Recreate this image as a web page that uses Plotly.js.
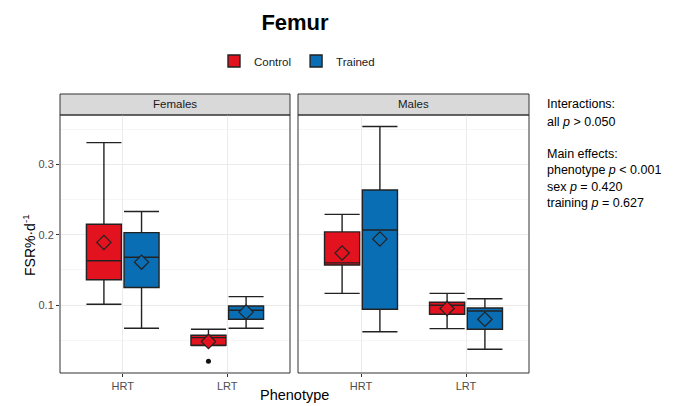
<!DOCTYPE html>
<html>
<head>
<meta charset="utf-8">
<script src="https://cdn.plot.ly/plotly-3.0.1.min.js"></script>
<style>html,body{margin:0;padding:0;background:#fff;}#chart{width:679px;height:406px;}</style>
</head>
<body>
<div id="chart"></div>
<script>
// ---- data ----
const phenotypes = ['HRT', 'LRT'];
const groups = ['Control', 'Trained'];
const sexes = ['Females', 'Males'];

// Females
const femControlQ1 = [0.136, 0.0427];
const femControlMedian = [0.163, 0.0536];
const femControlQ3 = [0.215, 0.057];
const femControlLower = [0.101, 0.0425];
const femControlUpper = [0.331, 0.0655];
const femControlMean = [0.189, 0.048];

const femTrainedQ1 = [0.125, 0.0797];
const femTrainedMedian = [0.168, 0.0925];
const femTrainedQ3 = [0.203, 0.0986];
const femTrainedLower = [0.067, 0.067];
const femTrainedUpper = [0.233, 0.112];
const femTrainedMean = [0.161, 0.090];

// Males
const maleControlQ1 = [0.157, 0.0868];
const maleControlMedian = [0.160, 0.0996];
const maleControlQ3 = [0.204, 0.104];
const maleControlLower = [0.1166, 0.0664];
const maleControlUpper = [0.229, 0.1166];
const maleControlMean = [0.174, 0.095];

const maleTrainedQ1 = [0.094, 0.0655];
const maleTrainedMedian = [0.2067, 0.0915];
const maleTrainedQ3 = [0.2636, 0.0957];
const maleTrainedLower = [0.062, 0.037];
const maleTrainedUpper = [0.354, 0.109];
const maleTrainedMean = [0.194, 0.0797];

// outlier (Females, LRT, Control)
const outlierX = ['LRT'];
const outlierY = [0.020];

const yTicks = [0.1, 0.2, 0.3];
const interactionLines = ['Interactions:', 'all <i>p</i> > 0.050'];
const mainEffectLines = ['Main effects:', 'phenotype <i>p</i> < 0.001', 'sex <i>p</i> = 0.420', 'training <i>p</i> = 0.627'];

// ---- styles ----
const colors = {Control: '#E2121E', Trained: '#0A6EB5'};
const lineCol = '#222222';
const FONT = 'Liberation Sans, Arial, sans-serif';

function boxTrace(name, xa, ya, q1, med, q3, lo, hi, showleg) {
  return {
    type: 'box', name: name, legendgroup: name, showlegend: showleg,
    x: phenotypes, q1: q1, median: med, q3: q3, lowerfence: lo, upperfence: hi,
    xaxis: xa, yaxis: ya, offsetgroup: name, alignmentgroup: xa,
    fillcolor: colors[name], line: {color: lineCol, width: 1.4},
    whiskerwidth: 1, boxpoints: false, hoverinfo: 'skip'
  };
}
function meanTrace(name, xa, ya, mean) {
  return {
    type: 'scatter', mode: 'markers', showlegend: false,
    x: phenotypes, y: mean, xaxis: xa, yaxis: ya, offsetgroup: name, alignmentgroup: xa,
    marker: {symbol: 'diamond', size: 11, color: colors[name], line: {color: lineCol, width: 1.2}},
    hoverinfo: 'skip'
  };
}

const traces = [
  boxTrace('Control', 'x', 'y', femControlQ1, femControlMedian, femControlQ3, femControlLower, femControlUpper, true),
  boxTrace('Trained', 'x', 'y', femTrainedQ1, femTrainedMedian, femTrainedQ3, femTrainedLower, femTrainedUpper, true),
  boxTrace('Control', 'x2', 'y2', maleControlQ1, maleControlMedian, maleControlQ3, maleControlLower, maleControlUpper, false),
  boxTrace('Trained', 'x2', 'y2', maleTrainedQ1, maleTrainedMedian, maleTrainedQ3, maleTrainedLower, maleTrainedUpper, false),
  meanTrace('Control', 'x', 'y', femControlMean),
  meanTrace('Trained', 'x', 'y', femTrainedMean),
  meanTrace('Control', 'x2', 'y2', maleControlMean),
  meanTrace('Trained', 'x2', 'y2', maleTrainedMean),
  {
    type: 'scatter', mode: 'markers', showlegend: false,
    x: outlierX, y: outlierY, xaxis: 'x', yaxis: 'y', offsetgroup: 'Control', alignmentgroup: 'x',
    marker: {symbol: 'circle', size: 5, color: '#111'}, hoverinfo: 'skip'
  }
];

const W = 679, H = 406;
const mL = 60, mR = 150, mT = 94, mB = 33;
const plotW = W - mL - mR, plotH = H - mT - mB;
const stripH = 21;
const yTop = (plotH - stripH) / plotH;
const x1dom = [0, 230 / plotW];
const x2dom = [238 / plotW, 1];
const yRange = [0.0033, 0.3703];
const xRange = [-0.6, 1.6];
const py = (pix) => (H - mB - pix) / plotH;   // pixel row -> paper y
const px = (pix) => (pix - mL) / plotW;       // pixel col -> paper x

const axisX = (dom) => ({
  domain: dom, range: xRange, type: 'category', categoryorder: 'array', categoryarray: phenotypes,
  showgrid: true, gridcolor: '#EBEBEB', gridwidth: 1, zeroline: false, showline: false,
  ticks: 'outside', ticklen: 3, tickcolor: '#333', tickwidth: 1,
  tickfont: {family: FONT, size: 11, color: '#4D4D4D'}, fixedrange: true
});
const axisY = (anchor, showLabels) => ({
  domain: [0, yTop], range: yRange, anchor: anchor,
  tickvals: yTicks, ticktext: yTicks.map(v => v.toFixed(1)), showticklabels: showLabels,
  showgrid: true, gridcolor: '#EBEBEB', gridwidth: 1, zeroline: false, showline: false,
  ticks: showLabels ? 'outside' : '', ticklen: 3, tickcolor: '#333', tickwidth: 1,
  minor: {tickvals: [0.05, 0.15, 0.25, 0.35], showgrid: true, gridcolor: '#F4F4F4', gridwidth: 0.8, ticks: ''},
  tickfont: {family: FONT, size: 11, color: '#4D4D4D'}, fixedrange: true
});

const shapes = [];
const annotations = [];
[x1dom, x2dom].forEach((dom, i) => {
  shapes.push({type: 'rect', xref: 'paper', yref: 'paper', x0: dom[0], x1: dom[1], y0: 0, y1: yTop,
    line: {color: '#333333', width: 1}, fillcolor: 'rgba(0,0,0,0)', layer: 'above'});
  shapes.push({type: 'rect', xref: 'paper', yref: 'paper', x0: dom[0], x1: dom[1], y0: yTop, y1: 1,
    line: {color: '#333333', width: 1}, fillcolor: '#D9D9D9', layer: 'below'});
  annotations.push({xref: 'paper', yref: 'paper', x: (dom[0] + dom[1]) / 2, y: (yTop + 1) / 2,
    text: sexes[i], showarrow: false, xanchor: 'center', yanchor: 'middle',
    font: {family: FONT, size: 11.5, color: '#1A1A1A'}});
});

interactionLines.forEach((t, i) => {
  annotations.push({xref: 'paper', yref: 'paper', x: px(545), y: py(104 + i * 17.5), text: t,
    showarrow: false, xanchor: 'left', yanchor: 'middle', font: {family: FONT, size: 12.5, color: '#000'}});
});
mainEffectLines.forEach((t, i) => {
  annotations.push({xref: 'paper', yref: 'paper', x: px(545), y: py(153.5 + i * 16.6), text: t,
    showarrow: false, xanchor: 'left', yanchor: 'middle', font: {family: FONT, size: 12.5, color: '#000'}});
});

annotations.push({xref: 'paper', yref: 'paper', x: 0.5, y: py(405), text: 'Phenotype',
  showarrow: false, xanchor: 'center', yanchor: 'bottom',
  font: {family: FONT, size: 14.5, color: '#000'}});
annotations.push({xref: 'paper', yref: 'paper', x: px(29), y: py(245),
  text: 'FSR%·d<sup>-1</sup>', textangle: -90, showarrow: false, xanchor: 'center', yanchor: 'middle',
  font: {family: FONT, size: 14, color: '#000'}});

const layout = {
  width: W, height: H,
  margin: {l: mL, r: mR, t: mT, b: mB},
  paper_bgcolor: '#fff', plot_bgcolor: '#fff',
  title: {text: '<b>Femur</b>', x: 295 / W, xanchor: 'center', y: 1 - 22 / H, yanchor: 'middle',
    font: {family: FONT, size: 22, color: '#000'}},
  showlegend: true,
  legend: {orientation: 'h', x: px(214), xanchor: 'left', y: py(61), yanchor: 'middle',
    font: {family: FONT, size: 11.5, color: '#1A1A1A'},
    itemwidth: 30, tracegroupgap: 0, bgcolor: 'rgba(0,0,0,0)'},
  boxmode: 'group', boxgap: 0.28, boxgroupgap: 0.07,
  scattermode: 'group', scattergap: 0.28,
  xaxis: Object.assign(axisX(x1dom), {anchor: 'y'}),
  xaxis2: Object.assign(axisX(x2dom), {anchor: 'y2'}),
  yaxis: axisY('x', true),
  yaxis2: Object.assign(axisY('x2', false), {matches: 'y'}),
  shapes: shapes,
  annotations: annotations
};

Plotly.newPlot('chart', traces, layout, {staticPlot: true, displayModeBar: false});
</script>
</body>
</html>
